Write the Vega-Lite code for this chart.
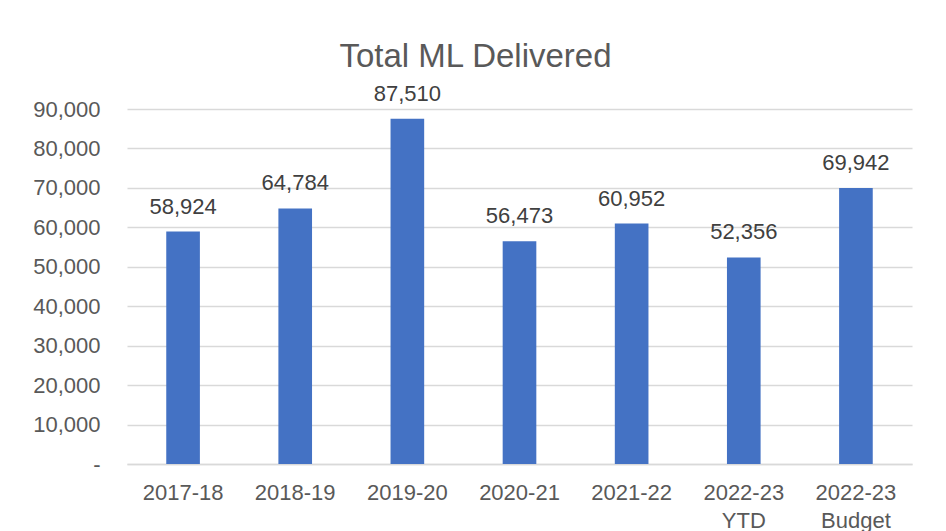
{
  "$schema": "https://vega.github.io/schema/vega-lite/v6.json",
  "autosize": {"type": "none"},
  "width": 785,
  "height": 355,
  "padding": {"left": 127, "top": 109, "right": 34, "bottom": 67},
  "background": "white",
  "title": {
    "text": "Total ML Delivered",
    "font": "Liberation Sans",
    "fontSize": 33,
    "fontWeight": "normal",
    "color": "#595959",
    "anchor": "middle",
    "frame": "group",
    "baseline": "alphabetic",
    "offset": -17,
    "dx": -44
  },
  "data": {
    "values": [
      {"year": "2017-18", "ml": 58924},
      {"year": "2018-19", "ml": 64784},
      {"year": "2019-20", "ml": 87510},
      {"year": "2020-21", "ml": 56473},
      {"year": "2021-22", "ml": 60952},
      {"year": "2022-23 YTD", "ml": 52356},
      {"year": "2022-23 Budget", "ml": 69942}
    ]
  },
  "encoding": {
    "x": {
      "field": "year",
      "type": "nominal",
      "sort": null,
      "scale": {"paddingInner": 0.7, "paddingOuter": 0.35},
      "axis": {
        "title": null,
        "labelAngle": 0,
        "labelExpr": "split(datum.label, ' ')",
        "labelFont": "Liberation Sans",
        "labelFontSize": 22,
        "labelColor": "#595959",
        "labelPadding": 18,
        "labelLineHeight": 28,
        "ticks": false,
        "domainColor": "#D9D9D9",
        "domainWidth": 1.5,
        "grid": false
      }
    },
    "y": {
      "field": "ml",
      "type": "quantitative",
      "scale": {"domain": [0, 90000], "nice": false},
      "axis": {
        "title": null,
        "values": [0, 10000, 20000, 30000, 40000, 50000, 60000, 70000, 80000, 90000],
        "labelExpr": "datum.value == 0 ? '-' : format(datum.value, ',')",
        "labelFont": "Liberation Sans",
        "labelFontSize": 22,
        "labelColor": "#595959",
        "labelPadding": 27,
        "ticks": false,
        "domain": false,
        "grid": true,
        "gridColor": "#D9D9D9",
        "gridWidth": 1.5
      }
    }
  },
  "layer": [
    {"mark": {"type": "bar", "color": "#4472C4"}},
    {
      "mark": {
        "type": "text",
        "baseline": "alphabetic",
        "dy": -18,
        "font": "Liberation Sans",
        "fontSize": 22,
        "color": "#404040"
      },
      "encoding": {"text": {"field": "ml", "type": "quantitative", "format": ","}}
    }
  ],
  "config": {"view": {"stroke": null}}
}
